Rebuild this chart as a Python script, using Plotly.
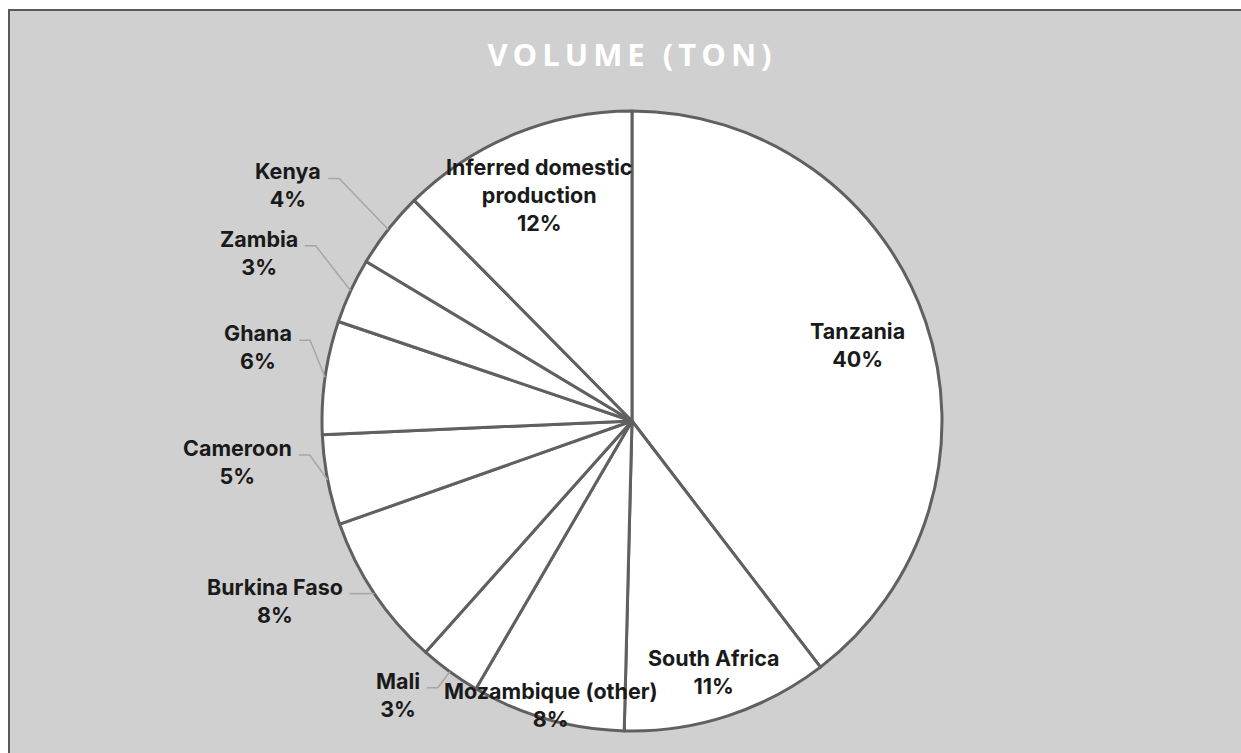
import math
import plotly.graph_objects as go

# ---- data ----
labels = ["Tanzania", "South Africa", "Mozambique (other)", "Mali", "Burkina Faso",
          "Cameroon", "Ghana", "Zambia", "Kenya", "Inferred domestic production"]
shares = [39.6, 10.8, 8.0, 3.2, 8.0, 4.7, 5.9, 3.4, 4.0, 12.4]
display_names = ["Tanzania", "South Africa", "Mozambique (other)", "Mali", "Burkina Faso",
                 "Cameroon", "Ghana", "Zambia", "Kenya", "Inferred domestic<br>production"]
title_text = "VOLUME (TON)"

# ---- layout / style ----
W, H = 1241, 753
CX, CY, R = 632, 421, 310
BG = "#d0d0d0"
EDGE = "#606060"
LEADER = "#a6a6a6"
TXT = "#1a1a1a"
FONT = "Inter"
FSIZE = 21.5

# label placement style: inside -> radial fraction; outside -> elbow offset from slice edge
placement = {
    "Tanzania": ("in", 0.767),
    "South Africa": ("in", 0.853),
    "Mozambique (other)": ("in", 0.952),
    "Inferred domestic production": ("in", 0.787),
    "Kenya": ("out", -49, -51),
    "Zambia": ("out", -35, -45),
    "Ghana": ("out", -15, -37),
    "Cameroon": ("out", -18, -25),
    "Burkina Faso": ("out", -14, 0),
    "Mali": ("out", -12, 16),
}
SEG = 11   # horizontal leader segment length
GAP = 5    # gap between text and leader

def px(x):
    return x / W

def py(y):
    return 1 - y / H

fig = go.Figure()
fig.add_trace(go.Pie(
    labels=labels, values=shares, sort=False, direction="clockwise", rotation=0,
    textinfo="none", hoverinfo="label+percent",
    marker=dict(colors=["#ffffff"] * len(labels), line=dict(color=EDGE, width=3)),
    domain=dict(x=[px(CX - R), px(CX + R)], y=[py(CY + R), py(CY - R)]),
    showlegend=False,
))

total = sum(shares)
annotations = []
shapes = [dict(type="rect", xref="paper", yref="paper", layer="below",
               x0=px(9), x1=1.2, y0=-0.2, y1=py(10),
               fillcolor=BG, line=dict(color="#595959", width=2))]

cum = 0.0
for name, disp, v in zip(labels, display_names, shares):
    mid = (cum + v / 2) / total * 2 * math.pi
    cum += v
    pct = f"{round(v / total * 100):.0f}%"
    text = f"{disp}<br>{pct}"
    pl = placement[name]
    if pl[0] == "in":
        r = pl[1] * R
        x = CX + r * math.sin(mid)
        y = CY - r * math.cos(mid)
        annotations.append(dict(x=px(x), y=py(y), xref="paper", yref="paper", text=text,
                                showarrow=False, xanchor="center", yanchor="middle",
                                align="center",
                                font=dict(family=FONT, size=FSIZE, color=TXT, weight="bold")))
    else:
        ex = CX + R * math.sin(mid)
        ey = CY - R * math.cos(mid)
        bx, by = ex + pl[1], ey + pl[2]
        sx = bx - SEG
        shapes.append(dict(type="path", xref="paper", yref="paper", layer="above",
                           path=f"M {px(sx)},{py(by)} L {px(bx)},{py(by)} L {px(ex)},{py(ey)}",
                           line=dict(color=LEADER, width=1.5)))
        annotations.append(dict(x=px(sx - GAP), y=py(by + 7), xref="paper", yref="paper",
                                text=text, showarrow=False, xanchor="right", yanchor="middle",
                                align="center",
                                font=dict(family=FONT, size=FSIZE, color=TXT, weight="bold")))

fig.update_layout(
    width=W, height=H,
    margin=dict(l=0, r=0, t=0, b=0),
    paper_bgcolor="#ffffff",
    plot_bgcolor="rgba(0,0,0,0)",
    title=dict(text=f'<span style="letter-spacing:5px">{title_text}</span>',
               x=px(CX), y=py(55), xanchor="center", yanchor="middle",
               font=dict(family="Open Sans", size=31, color="#ffffff", weight="bold")),
    shapes=shapes,
    annotations=annotations,
)

fig.write_html("out.html",
               config={"displayModeBar": False},
               post_script="document.body.style.margin='0';document.body.style.overflow='hidden';")
